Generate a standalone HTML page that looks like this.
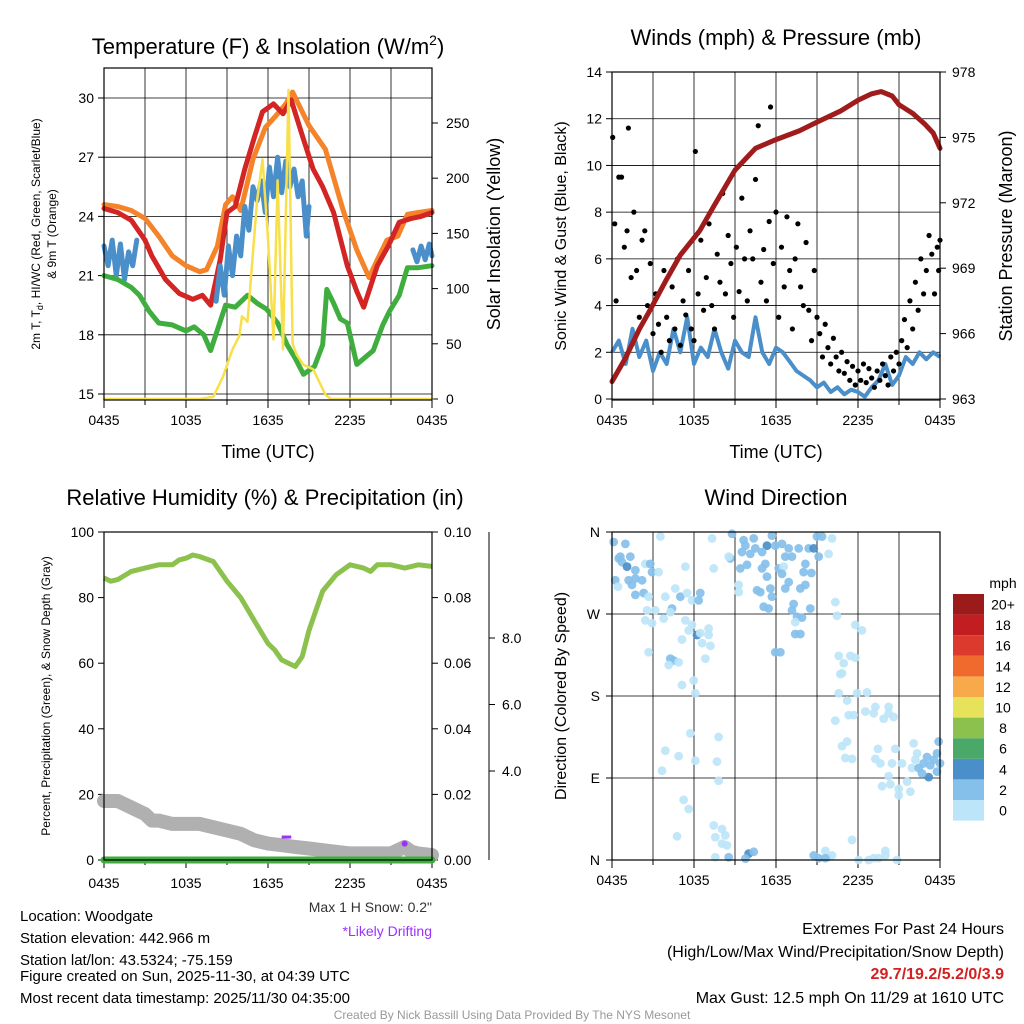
<!DOCTYPE html>
<html><head><meta charset="utf-8"><style>
html,body{margin:0;padding:0;background:#fff}
svg{display:block;font-family:"Liberation Sans",Arial,sans-serif}
</style></head><body>
<svg id="c" width="1024" height="1024" viewBox="0 0 1024 1024">
<rect x="0" y="0" width="1024" height="1024" fill="#fff"/>
<text x="268" y="54" font-size="22" text-anchor="middle">Temperature (F) &amp; Insolation (W/m<tspan font-size="14" dy="-9">2</tspan><tspan dy="9">)</tspan></text>
<text x="776" y="45" font-size="22" text-anchor="middle">Winds (mph) &amp; Pressure (mb)</text>
<text x="265" y="505" font-size="22" text-anchor="middle">Relative Humidity (%) &amp; Precipitation (in)</text>
<text x="776" y="505" font-size="22" text-anchor="middle">Wind Direction</text>
<text x="268" y="458" font-size="18" text-anchor="middle">Time (UTC)</text>
<text x="776" y="458" font-size="18" text-anchor="middle">Time (UTC)</text>
<text transform="translate(40,234) rotate(-90)" font-size="12" text-anchor="middle">2m T, T<tspan font-size="9" dy="3">d</tspan><tspan dy="-3">, HI/WC (Red, Green, Scarlet/Blue)</tspan></text>
<text transform="translate(56,234) rotate(-90)" font-size="12" text-anchor="middle">&amp; 9m T (Orange)</text>
<text transform="translate(500,234) rotate(-90)" font-size="18" text-anchor="middle">Solar Insolation (Yellow)</text>
<text transform="translate(566,236) rotate(-90)" font-size="16" text-anchor="middle">Sonic Wind &amp; Gust (Blue, Black)</text>
<text transform="translate(1012,236) rotate(-90)" font-size="18" text-anchor="middle">Station Pressure (Maroon)</text>
<text transform="translate(50,696) rotate(-90)" font-size="12" text-anchor="middle">Percent, Precipitation (Green), &amp; Snow Depth (Gray)</text>
<text transform="translate(566,696) rotate(-90)" font-size="16" text-anchor="middle">Direction (Colored By Speed)</text>
<text x="432" y="912" font-size="14" text-anchor="end" fill="#333">Max 1 H Snow: 0.2"</text>
<text x="432" y="936" font-size="14" text-anchor="end" fill="#9b30ff">*Likely Drifting</text>
<g font-size="15">
<text x="20" y="921">Location: Woodgate</text>
<text x="20" y="943">Station elevation: 442.966 m</text>
<text x="20" y="965">Station lat/lon: 43.5324; -75.159</text>
<text x="20" y="981">Figure created on Sun, 2025-11-30, at 04:39 UTC</text>
<text x="20" y="1003">Most recent data timestamp: 2025/11/30 04:35:00</text>
</g>
<g font-size="16" text-anchor="end">
<text x="1004" y="934">Extremes For Past 24 Hours</text>
<text x="1004" y="957">(High/Low/Max Wind/Precipitation/Snow Depth)</text>
<text x="1004" y="979" fill="#d42020" font-weight="bold">29.7/19.2/5.2/0/3.9</text>
<text x="1004" y="1003">Max Gust: 12.5 mph On 11/29 at 1610 UTC</text>
</g>
<text x="512" y="1019" font-size="12" text-anchor="middle" fill="#999">Created By Nick Bassill Using Data Provided By The NYS Mesonet</text>
</svg>
<script>
// ---- data ----
const timeLabels = ["0435","1035","1635","2235","0435"];
const tempTicks = [15,18,21,24,27,30];
const solarTicks = [0,50,100,150,200,250];
const windTicks = [0,2,4,6,8,10,12,14];
const presTicks = [963,966,969,972,975,978];
const rhTicks = [0,20,40,60,80,100];
const precipTicks = ["0.00","0.02","0.04","0.06","0.08","0.10"];
const snowTicks = [4.0,6.0,8.0];
const dirTicks = ["N","E","S","W","N"];
const dirTickDeg = [0,90,180,270,360];
const cbLabels = ["0","2","4","6","8","10","12","14","16","18","20+"];
const cbColors = ["#bde5f9","#85c0ea","#4a8fc9","#4aa868","#8cc14e","#e6e35a","#f8a94a","#f06a2e","#dc3a2c","#c21e22","#9b1b1b"];

const redT = [0,1,2,3,3.5,4.5,5.5,6.5,7.2,7.8,8.5,9,9.6,10.3,11,11.6,12.4,13.1,13.7,14.6,15.3,16,16.8,17.8,18.5,19,20,20.8,21.6,22.5,23.2,24];
const red2m = [24.4,24.2,23.8,22.8,22,20.8,20.1,19.8,20,19.5,21.8,24.2,24.5,26.4,28,29.3,29.7,29.2,29.9,27.9,26.4,25.5,24.2,21.5,20.2,19.4,21.5,22.5,23.7,23.9,24,24.2];
const orangeT = [0,1,2,3,4,5,6,7,7.5,8.3,8.9,9.4,10,10.9,11.8,12.7,13.3,13.8,15,16.2,17,17.5,18.5,19.4,20,20.7,21.5,22.2,23,24];
const orange9m = [24.6,24.5,24.3,23.9,23,22,21.5,21.2,21.3,22.5,24.6,25,24.3,26.9,28.5,29.2,29.7,30.3,28.6,27.4,25.5,24.3,22.3,20.9,21.8,22.8,23,24.1,24.2,24.3];
const greenT = [0,1,2,2.6,3.3,4,5,6,6.6,7.3,7.8,8.9,9.6,10.5,11.2,11.9,12.7,13.4,14,14.6,15.4,16,16.3,16.8,17.3,17.8,18.5,19.7,20.4,20.9,21.6,22.2,23,24];
const greenTd = [21,20.8,20.4,20,19.2,18.6,18.5,18.2,18.4,18,17.2,19.5,19.4,20,19.6,19.3,18.6,17.5,16.8,16,16.4,17.5,20.3,19.6,18.8,18.6,16.5,17.2,18.5,19.2,20,21.4,21.4,21.5];
const hiwcT = [0,0.3,0.6,0.9,1.2,1.5,1.8,2.1,2.4,2.7,8.2,8.5,8.8,9.1,9.4,9.7,10,10.3,10.6,10.9,11.2,11.5,11.8,12.1,12.4,12.7,13,13.3,13.6,13.9,14.2,14.5,14.8,15,15.1,22.6,22.9,23.2,23.5,23.8,24];
const hiwcV = [22.5,21.5,22.8,21,22.6,20.8,22.2,21.5,22.8,null,19.7,21.5,20,22.5,21,23,22,24.5,23.3,25.5,24.8,25.8,24.2,26.5,25,27,25.2,26.8,25.5,26.4,25,25.8,23,24.5,null,22.3,21.7,22.5,21.8,22.6,22];
const solarT = [0,7,8,8.7,9.4,9.9,10.1,10.5,10.8,11.2,11.6,12,12.4,12.7,13.1,13.5,13.8,14.1,14.6,15.3,16.2,16.6,24];
const solarV = [0,0,2,20,45,57,75,70,117,180,217,145,54,198,45,280,50,40,31,27,4,0,0];

const sonicV = [2,2.5,1.5,3,1.8,2.5,1.2,2,1.5,3,2,3.5,1.5,2.2,1.8,3,2,1.3,2.5,2,1.8,3.5,2,1.5,2.2,2,1.6,1.2,1,0.8,0.5,0.7,0.3,0.5,0.2,0.4,0.3,0.1,0.5,0.8,1.5,0.6,1,1.8,1.5,2,1.7,2,1.8];
const gustT = [0.05,0.2,0.3,0.5,0.7,0.9,1.1,1.2,1.4,1.6,1.8,2,2.2,2.4,2.6,2.8,3,3.2,3.4,3.6,3.8,4,4.2,4.4,4.6,4.8,5,5.2,5.4,5.6,5.8,6,6.1,6.3,6.5,6.7,6.9,7.1,7.3,7.5,7.7,7.9,8.1,8.3,8.5,8.7,8.9,9.1,9.3,9.5,9.7,9.9,10.1,10.3,10.5,10.7,10.9,11.1,11.3,11.5,11.6,11.8,12,12.2,12.4,12.6,12.8,13,13.2,13.4,13.6,13.8,14,14.2,14.4,14.6,14.8,15,15.2,15.4,15.6,15.8,16,16.2,16.4,16.6,16.8,17,17.2,17.4,17.6,17.8,18,18.2,18.4,18.6,18.8,19,19.2,19.4,19.6,19.8,20,20.2,20.4,20.6,20.8,21,21.2,21.4,21.6,21.8,22,22.2,22.4,22.6,22.8,23,23.2,23.4,23.6,23.8,23.9,24];
const gustV = [11.2,7.5,4.2,9.5,9.5,6.5,7.2,11.6,5.2,8,5.5,3.5,6.8,7.2,4,5.8,2.8,4.5,3.2,2,5.5,3.5,2.5,4.8,3,6,2.3,4.2,3.6,5.5,3,2.5,10.6,4.5,6.8,3.8,5.2,7.5,4,3,6.2,5,8.8,4.5,7,5.8,3.5,6.5,4.6,8.6,6,4.2,7.2,6,9.4,11.7,5,6.4,4.2,7.6,12.5,5.8,8,3.5,6.5,4.8,7.8,5.5,3,6,7.5,4.8,4,6.7,3.8,2.5,5.5,3.5,2.8,1.8,3.2,2.2,1.5,2.6,1.8,1.2,2,1.1,1.6,0.8,1.4,0.6,1.2,0.8,1.5,0.7,1.3,0.9,0.5,1.2,0.8,1.5,1,0.6,1.8,1.2,2,1.5,2.5,3.4,2.2,4.2,3,5,3.8,6,4.5,5.5,7,6.2,4.5,6.5,5.5,6.8];
const presT = [0,1,2,2.8,4,5,6.4,7.5,9,10.5,12,13.7,15,16.7,18,19,19.7,20.5,21,22,22.9,23.5,24];
const presV = [963.8,964.9,966.2,967.1,968.5,969.6,970.7,971.9,973.5,974.5,974.9,975.3,975.7,976.2,976.7,977,977.1,976.9,976.5,976.1,975.6,975.2,974.5];

const rhT = [0,0.5,1,2,3,4,5,5.5,6,6.5,7,8,9,10,11,12,12.5,13,13.5,14,14.5,15,15.5,16,17,18,19,19.5,20,21,22,23,24];
const rhV = [86,85,85.5,88,89,90,90,91.5,92,93,92.5,91,85,80,73,66,64,61,60,59,62,70,76,82,87,90,89,88,90,90,89,90,89.5];
const snowT = [0,1,2,3,3.5,4,5,6,7,8,9,10,11,12,13,14,15,16,17,18,19,20,21,21.5,22,22.5,23,24];
const snowV = [18,18,16,14,12,12,11,11,11,10,9,8,6,5,4.5,4,3.5,3,2.5,2,2,2,2,3,4,2.5,2,1.5];
const precipV = [0,0];

const dirT = [0.12,0.49,0.73,1.1,0.98,1.34,0.61,0.24,0.44,1.22,1.71,2.2,1.46,1.71,2.44,2.8,2.93,3.41,3.54,1.71,2.32,2.68,3.9,4.63,5,5.49,5.85,6.34,6.46,4.39,4.27,3.78,3.17,2.56,2.44,2.93,5.37,5.85,5.61,6.22,6.46,7.07,7.07,6.59,7.2,5.12,2.68,4.27,4.51,4.88,4.15,6.83,5.98,5.12,6.1,7.32,7.44,5.37,5.73,7.8,3.9,4.88,6.1,7.68,3.66,7.8,5.24,5.61,4.76,7.44,8.05,8.29,7.56,8.05,8.41,7.56,8.54,10,10.37,9.76,
8.78,9.63,10.37,11.34,11.7,11.95,12.44,9.76,10.49,10.98,10.12,9.51,8.66,9.39,9.88,11.22,10.98,12.2,12.56,12.68,13.17,12.93,13.66,14.39,14.76,15,15.37,16.1,15.85,14.15,14.02,14.59,12.44,11.34,12.93,12.68,14.15,13.78,10.61,10.85,11.59,11.7,11.1,11.46,13.29,13.17,14.51,13.54,13.9,13.41,13.41,13.78,11.95,12.32,9.27,9.27,15.12,8.54,
16.34,16.46,17.8,18.29,16.59,17.44,17.8,16.95,16.83,16.71,16.59,17.93,18.66,17.2,16.34,17.32,17.68,18.54,19.27,19.15,20.24,20.24,19.88,20.61,16.83,17.2,17.07,17.56,19.46,19.27,19.63,20.73,20.49,21.22,20.24,19.76,20.37,20.98,20.98,21.83,21.59,22.07,22.32,22.2,21.95,22.44,22.8,23.05,23.29,23.54,23.78,23.9,23.17,23.78,22.68,24,
14.76,15.61,15.85,16.1,17.56,18.05,18.78,19.15,19.51,20,20,20.85,15.61,15.12];
const dirD = [349,331,327,322,347,333,333,307,300,307,309,307,302,318,325,325,316,316,355,291,293,289,289,298,289,293,285,285,293,276,272,265,274,274,263,260,263,258,252,247,249,254,247,238,235,242,228,221,219,217,214,221,197,192,183,353,320,322,139,135,120,114,109,108,98,87,66,56,26,38,34,27,25,18,16,3,3,7,9,1.5,
358,351,353,345,356,345,347,345,342,338,336,338,331,320,324,325,320,320,322,333,333,342,342,342,342,355,355,353,336,325,316,315,314,311,305,298,302,298,296,294,298,289,278,276,281,274,276,267,266,261,248,248,228,228,302,294,333,333,
283,268,258,252,224,224,222,216,205,204,183,183,184,175,153,159,159,163,168,161,168,161,155,157,125,130,112,111,122,111,106,122,106,106,92,81,83,78,71,75,86,128,117,110,101,101,106,113,104,110,117,130,91,97,95,106,
5,10,3,5,22,0,0,2,2,10,5,0,2,2];
const dirS = [1,1,1,2,1,1,1,1,0,1,1,1,1,1,0,1,1,0,0,1,1,0,0,0,1,0,0,1,1,1,0,0,0,0,0,0,0,0,0,2,0,0,0,0,0,0,0,1,1,0,0,0,0,0,0,0,0,0,0,0,0,0,0,0,0,0,0,0,0,0,0,0,0,0,0,0,1,2,1,1,
1,1,1,2,1,1,1,1,1,1,1,1,1,1,1,1,1,1,0,1,1,1,1,1,2,1,1,0,0,1,1,1,1,1,1,1,1,1,1,1,1,1,1,1,1,1,1,1,1,0,1,1,1,1,0,0,1,0,
0,0,0,0,0,0,0,0,0,0,0,0,0,0,0,0,0,0,0,0,0,0,0,0,0,0,0,0,0,0,0,0,0,0,0,0,0,0,0,0,0,0,0,0,0,1,1,1,1,1,1,1,2,1,1,1,
1,0,0,0,0,0,0,0,0,0,0,0,1,1];

// ---- helpers ----
const NS = "http://www.w3.org/2000/svg";
const svg = document.getElementById("c");
function mk(tag, attrs, parent){
  const e = document.createElementNS(NS, tag);
  for (const k in attrs) e.setAttribute(k, attrs[k]);
  (parent||svg).appendChild(e);
  return e;
}
function txt(x,y,s,size,anchor,parent){
  const t = mk("text",{x:x,y:y,"font-size":size,"text-anchor":anchor},parent);
  t.textContent = s;
  return t;
}
function scale(d0,d1,r0,r1){ return v => r0 + (v-d0)/(d1-d0)*(r1-r0); }
function pathFrom(ts, vs, xs, ys){
  let d = "", pen = false;
  for (let i=0;i<ts.length;i++){
    if (vs[i]===null){ pen=false; continue; }
    d += (pen?"L":"M") + xs(ts[i]).toFixed(1) + "," + ys(vs[i]).toFixed(1);
    pen = true;
  }
  return d;
}
function frame(name){
  const g = mk("g",{});
  
  
  return g;
}
function timeAxis(g,xs,B,T,grid,off){
  for (let h=0;h<=24;h+=3){
    if (grid && h>0 && h<24) mk("line",{x1:xs(h),x2:xs(h),y1:T,y2:B,stroke:"#000","stroke-width":0.8},g);
    mk("line",{x1:xs(h),x2:xs(h),y1:B,y2:B+(h%6===0?8:5),stroke:"#000","stroke-width":1},g);
  }
  timeLabels.forEach((s,i)=>{
    const t = txt(xs(i*6),B+off,s,14,"middle",g);
    
    
  });
}

// ===== Panel 1: temperature =====
{
  const L=104,R=432,T=68,B=400;
  const g = frame("temperature-panel");
  const xs = scale(0,24,L,R), ys = scale(15,30,394,98), ss = scale(0,250,399,123);
  tempTicks.forEach(v=>{
    mk("line",{x1:L,x2:R,y1:ys(v),y2:ys(v),stroke:"#000","stroke-width":0.8},g);
    mk("line",{x1:L-6,x2:L,y1:ys(v),y2:ys(v),stroke:"#000"},g);
    const t = txt(L-10,ys(v)+5,String(v),14,"end",g);
    
    
  });
  solarTicks.forEach(v=>{
    mk("line",{x1:R,x2:R+6,y1:ss(v),y2:ss(v),stroke:"#000"},g);
    const t = txt(R+14,ss(v)+5,String(v),14,"start",g);
    
    
  });
  timeAxis(g,xs,B,T,true,25);
  const series = [[orangeT,orange9m,"#f5832a","orange-9m-temp-line",ys],[redT,red2m,"#d42525","red-2m-temp-line",ys],[hiwcT,hiwcV,"#4a8fc9","blue-hiwc-line",ys],[greenT,greenTd,"#3fae3f","green-dewpoint-line",ys],[solarT,solarV,"#f7e04a","yellow-solar-line",ss]];
  series.forEach(s=>{
    const p = mk("path",{d:pathFrom(s[0],s[1],xs,s[4]),fill:"none",stroke:s[2],"stroke-width":s[2]==="#f7e04a"?2.5:5,"stroke-linejoin":"round","stroke-linecap":"round"},g);
    
    
  });
  mk("rect",{x:L,y:T,width:R-L,height:B-T,fill:"none",stroke:"#000","stroke-width":1.2},g);
}

// ===== Panel 2: winds =====
{
  const L=612,R=940,T=72,B=400;
  const g = frame("wind-panel");
  const xs = scale(0,24,L,R), ys = scale(0,14,399,72), ps = scale(963,978,399,72);
  windTicks.forEach(v=>{
    mk("line",{x1:L,x2:R,y1:ys(v),y2:ys(v),stroke:"#000","stroke-width":0.8},g);
    mk("line",{x1:L-6,x2:L,y1:ys(v),y2:ys(v),stroke:"#000"},g);
    const t = txt(L-10,ys(v)+5,String(v),14,"end",g);
    
    
  });
  presTicks.forEach(v=>{
    mk("line",{x1:R,x2:R+6,y1:ps(v),y2:ps(v),stroke:"#000"},g);
    const t = txt(R+12,ps(v)+5,String(v),14,"start",g);
    
    
  });
  timeAxis(g,xs,B,T,true,25);
  const sonicT = sonicV.map((v,i)=>i*24/(sonicV.length-1));
  const sp = mk("path",{d:pathFrom(sonicT,sonicV,xs,ys),fill:"none",stroke:"#4a8fc9","stroke-width":4,"stroke-linejoin":"round"},g);
  
  
  gustT.forEach((t,i)=>{
    const c = mk("circle",{cx:xs(t),cy:ys(gustV[i]),r:2.6,fill:"#000"},g);
    
    
  });
  const pp = mk("path",{d:pathFrom(presT,presV,xs,ps),fill:"none",stroke:"#a01c1c","stroke-width":5,"stroke-linejoin":"round","stroke-linecap":"round"},g);
  
  
  mk("rect",{x:L,y:T,width:R-L,height:B-T,fill:"none",stroke:"#000","stroke-width":1.2},g);
}

// ===== Panel 3: RH =====
{
  const L=104,R=432,T=532,B=860;
  const g = frame("humidity-panel");
  const xs = scale(0,24,L,R), ys = scale(0,100,860,532), sn = scale(4,8,771,638);
  rhTicks.forEach((v,i)=>{
    mk("line",{x1:L-6,x2:L,y1:ys(v),y2:ys(v),stroke:"#000"},g);
    const t = txt(L-10,ys(v)+5,String(v),14,"end",g);
    
    
    mk("line",{x1:R,x2:R+6,y1:ys(v),y2:ys(v),stroke:"#000"},g);
    const t2 = txt(R+12,ys(v)+5,precipTicks[i],14,"start",g);
    
    
  });
  mk("line",{x1:489,x2:489,y1:T,y2:B,stroke:"#000"},g);
  snowTicks.forEach(v=>{
    mk("line",{x1:489,x2:495,y1:sn(v),y2:sn(v),stroke:"#000"},g);
    const t = txt(502,sn(v)+5,v.toFixed(1),14,"start",g);
    
    
  });
  timeAxis(g,xs,B,T,false,28);
  const gp = mk("path",{d:pathFrom(snowT,snowV,xs,ys),fill:"none",stroke:"#b0b0b0","stroke-width":14,"stroke-linejoin":"round","stroke-linecap":"round"},g);
  
  
  const pr = mk("path",{d:pathFrom([0,24],precipV,xs,ys),fill:"none",stroke:"#3fae3f","stroke-width":7,"stroke-linecap":"round"},g);
  
  
  const rp = mk("path",{d:pathFrom(rhT,rhV,xs,ys),fill:"none",stroke:"#8cc14e","stroke-width":5,"stroke-linejoin":"round"},g);
  
  
  const d1 = mk("line",{x1:xs(13),x2:xs(13.7),y1:ys(7),y2:ys(7),stroke:"#9b30ff","stroke-width":3},g);
  
  
  const d2 = mk("circle",{cx:xs(22),cy:ys(5),r:3,fill:"#9b30ff"},g);
  
  
  mk("rect",{x:L,y:T,width:R-L,height:B-T,fill:"none",stroke:"#000","stroke-width":1.2},g);
}

// ===== Panel 4: wind direction =====
{
  const L=612,R=940,T=532,B=860;
  const g = frame("direction-panel");
  const xs = scale(0,24,L,R), ys = scale(0,360,860,532);
  dirTickDeg.forEach((v,i)=>{
    if (v>0 && v<360) mk("line",{x1:L,x2:R,y1:ys(v),y2:ys(v),stroke:"#000","stroke-width":0.8},g);
    mk("line",{x1:L-6,x2:L,y1:ys(v),y2:ys(v),stroke:"#000"},g);
    const t = txt(L-12,ys(v)+5,dirTicks[i],14,"end",g);
    
    
  });
  timeAxis(g,xs,B,T,true,25);
  dirT.forEach((t,i)=>{
    const c = mk("circle",{cx:xs(t),cy:ys(dirD[i]),r:4.4,fill:cbColors[dirS[i]],"fill-opacity":0.92},g);
    
    
  });
  mk("rect",{x:L,y:T,width:R-L,height:B-T,fill:"none",stroke:"#000","stroke-width":1.2},g);
  const cb = mk("g",{});
  
  
  txt(1003,588,"mph",14,"middle",cb);
  cbColors.forEach((col,i)=>{
    const y = 594 + (10-i)*20.6;
    mk("rect",{x:953,y:y,width:31,height:20.6,fill:col},cb);
    const t = txt(1003,y+15.5,cbLabels[i],14,"middle",cb);
    
    
  });
}
</script>
</body></html>
